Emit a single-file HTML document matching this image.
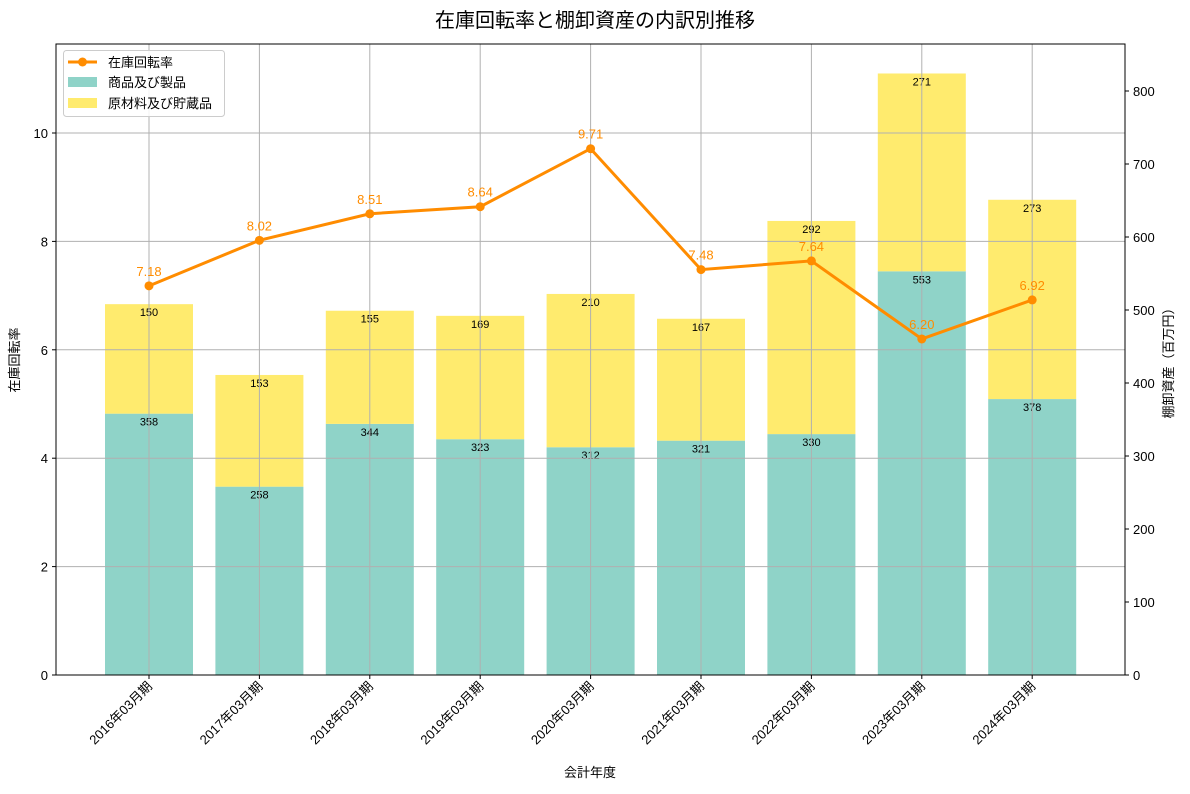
<!DOCTYPE html>
<html><head><meta charset="utf-8"><style>
body{margin:0;background:#fff;}
svg text{font-family:"Liberation Sans","Noto Sans CJK JP",sans-serif;}
</style></head><body>
<svg id="chart" width="1190" height="789" xmlns="http://www.w3.org/2000/svg">
<rect width="1190" height="789" fill="#fff"/>
<text x="595" y="27" text-anchor="middle" font-size="20" fill="#000">在庫回転率と棚卸資産の内訳別推移</text>
<g id="grid"></g>
<g id="bars"></g>
<g id="line"></g>
<g id="axes"></g>
</svg>
<script>
const categories=["2016年03月期","2017年03月期","2018年03月期","2019年03月期","2020年03月期","2021年03月期","2022年03月期","2023年03月期","2024年03月期"];
const products=[358,258,344,323,312,321,330,553,378];
const materials=[150,153,155,169,210,167,292,271,273];
const turnover=[7.18,8.02,8.51,8.64,9.71,7.48,7.64,6.20,6.92];
const leftTicks=[0,2,4,6,8,10];
const rightTicks=[0,100,200,300,400,500,600,700,800];

const NS="http://www.w3.org/2000/svg";
const L=56,R=1125,T=44,B=675;
const yL=v=>B-v*(B-133)/10;
const yR=v=>B-v*(B-91)/800;
const xC=i=>149+i*110.4;
const bw=88;
function mk(tag,attrs,parent,text){const e=document.createElementNS(NS,tag);for(const k in attrs)e.setAttribute(k,attrs[k]);if(text!==undefined)e.textContent=text;parent.appendChild(e);return e;}
const grid=document.getElementById('grid'),bars=document.getElementById('bars'),line=document.getElementById('line'),axes=document.getElementById('axes');

// bars
categories.forEach((c,i)=>{
  const x=xC(i)-bw/2;
  const g=mk('rect',{x:x,y:yR(products[i]),width:bw,height:B-yR(products[i]),fill:'#8fd3c8'},bars);
  
  
  const tot=products[i]+materials[i];
  const y2=mk('rect',{x:x,y:yR(tot),width:bw,height:yR(products[i])-yR(tot),fill:'#ffeb6e'},bars);
  
  
  const t1=mk('text',{x:xC(i),y:yR(products[i])+12,'text-anchor':'middle','font-size':11,fill:'#000'},bars,products[i]);
  
  
  const t2=mk('text',{x:xC(i),y:yR(tot)+12,'text-anchor':'middle','font-size':11,fill:'#000'},bars,materials[i]);
  
  
});
// grid on top of bars (matplotlib shows grid above)
categories.forEach((c,i)=>{mk('line',{x1:xC(i),x2:xC(i),y1:T,y2:B,stroke:'#b0b0b0','stroke-width':1},grid);});
leftTicks.forEach(v=>{mk('line',{x1:L,x2:R,y1:yL(v),y2:yL(v),stroke:'#b0b0b0','stroke-width':1},grid);});
document.getElementById('chart').appendChild(grid);
document.getElementById('chart').appendChild(line);
document.getElementById('chart').appendChild(axes);

// line
const pts=turnover.map((v,i)=>xC(i)+','+yL(v)).join(' ');
const pl=mk('polyline',{points:pts,fill:'none',stroke:'#ff8c00','stroke-width':3},line);


turnover.forEach((v,i)=>{
  const c=mk('circle',{cx:xC(i),cy:yL(v),r:4.5,fill:'#ff8c00'},line);
  
  
  const t=mk('text',{x:xC(i),y:yL(v)-10,'text-anchor':'middle','font-size':13,fill:'#ff8c00'},line,v.toFixed(2));
  
  
});

// axes frame
mk('rect',{x:L,y:T,width:R-L,height:B-T,fill:'none',stroke:'#000','stroke-width':1},axes);
leftTicks.forEach(v=>{
  mk('line',{x1:L-4,x2:L,y1:yL(v),y2:yL(v),stroke:'#000'},axes);
  const t=mk('text',{x:L-8,y:yL(v)+5,'text-anchor':'end','font-size':13,fill:'#000'},axes,v);
  
  
});
rightTicks.forEach(v=>{
  mk('line',{x1:R,x2:R+4,y1:yR(v),y2:yR(v),stroke:'#000'},axes);
  const t=mk('text',{x:R+8,y:yR(v)+5,'text-anchor':'start','font-size':13,fill:'#000'},axes,v);
  
  
});
categories.forEach((c,i)=>{
  mk('line',{x1:xC(i),x2:xC(i),y1:B,y2:B+4,stroke:'#000'},axes);
  const x=xC(i)+4,y=B+12;
  const t=mk('text',{x:x,y:y,'text-anchor':'end','font-size':13,fill:'#000',transform:`rotate(-45 ${x} ${y})`},axes,c);
  
  
});
</script>
<svg width="1190" height="789" style="position:absolute;left:0;top:0;pointer-events:none" xmlns="http://www.w3.org/2000/svg">
<text x="590" y="777" text-anchor="middle" font-size="13" fill="#000">会計年度</text>
<text x="19" y="360" text-anchor="middle" font-size="13" fill="#000" transform="rotate(-90 19 360)">在庫回転率</text>
<text x="1173" y="360" text-anchor="middle" font-size="13" fill="#000" transform="rotate(-90 1173 360)">棚卸資産（百万円）</text>
<g>
<rect x="63.5" y="50.5" width="161" height="66" rx="3" fill="#fff" fill-opacity="0.85" stroke="#ccc"/>
<line x1="68" y1="62" x2="97" y2="62" stroke="#ff8c00" stroke-width="3"/>
<circle cx="82.5" cy="62" r="4.5" fill="#ff8c00"/>
<text x="108" y="67" font-size="13" fill="#000">在庫回転率</text>
<rect x="68" y="77" width="29" height="10" fill="#8fd3c8"/>
<text x="108" y="87" font-size="13" fill="#000">商品及び製品</text>
<rect x="68" y="98" width="29" height="10" fill="#ffeb6e"/>
<text x="108" y="108" font-size="13" fill="#000">原材料及び貯蔵品</text>
</g>
</svg>
<style>body{position:relative;}</style>
</body></html>
